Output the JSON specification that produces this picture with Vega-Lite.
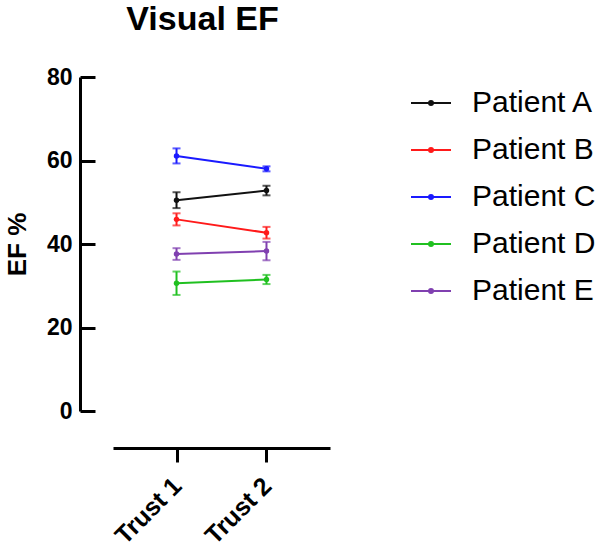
{
  "$schema": "https://vega.github.io/schema/vega-lite/v6.json",
  "autosize": {"type": "none"},
  "padding": {"left": 113, "top": 77, "right": 267, "bottom": 141},
  "width": 217,
  "height": 334,
  "title": {"text": "Visual EF", "fontSize": 34, "font": "Liberation Sans", "fontWeight": "bold", "anchor": "middle", "dx": -19, "dy": -25, "color": "black"},
  "data": {"values": [
    {"patient": "Patient A", "trust": "Trust 1", "ef": 50.5, "err": 1.9},
    {"patient": "Patient A", "trust": "Trust 2", "ef": 52.8, "err": 1.15},
    {"patient": "Patient B", "trust": "Trust 1", "ef": 45.9, "err": 1.45},
    {"patient": "Patient B", "trust": "Trust 2", "ef": 42.7, "err": 1.4},
    {"patient": "Patient C", "trust": "Trust 1", "ef": 61.1, "err": 1.8},
    {"patient": "Patient C", "trust": "Trust 2", "ef": 58.0, "err": 0.6},
    {"patient": "Patient D", "trust": "Trust 1", "ef": 30.6, "err": 2.8},
    {"patient": "Patient D", "trust": "Trust 2", "ef": 31.5, "err": 1.1},
    {"patient": "Patient E", "trust": "Trust 1", "ef": 37.6, "err": 1.4},
    {"patient": "Patient E", "trust": "Trust 2", "ef": 38.3, "err": 2.2}
  ]},
  "encoding": {
    "x": {"field": "trust", "type": "ordinal", "scale": {"type": "point", "padding": 0.706},
      "axis": {"title": null, "labelAngle": -45, "labelFontSize": 25, "labelFont": "Liberation Sans", "labelFontWeight": "bold", "labelColor": "black", "offset": 37, "domainColor": "black", "domainWidth": 3, "tickColor": "black", "tickWidth": 3, "tickSize": 14, "labelPadding": 11, "labelOffset": -8}},
    "color": {"field": "patient", "type": "nominal",
      "scale": {"domain": ["Patient A", "Patient B", "Patient C", "Patient D", "Patient E"], "range": ["#111111", "#ff1a1a", "#1a1aff", "#20c020", "#8040b0"]},
      "legend": {"orient": "none", "legendX": 297, "legendY": 5, "title": null, "symbolType": "M-1,0L1,0M-0.1,0a0.1,0.1 0 1,0 0.2,0a0.1,0.1 0 1,0 -0.2,0", "symbolSize": 1600, "symbolStrokeWidth": 2, "labelFontSize": 30, "labelFont": "Liberation Sans", "labelColor": "black", "labelOffset": 20, "rowPadding": 11, "symbolOpacity": 1}}
  },
  "layer": [
    {"mark": {"type": "line", "strokeWidth": 2},
     "encoding": {"y": {"field": "ef", "type": "quantitative", "scale": {"domain": [0, 80]},
      "axis": {"orient": "left", "title": "EF %", "titleFontSize": 26, "titleFont": "Liberation Sans", "titleFontWeight": "bold", "titleColor": "black", "titlePadding": 16, "values": [0, 20, 40, 60, 80], "labelFontSize": 23, "labelFont": "Liberation Sans", "labelFontWeight": "bold", "labelColor": "black", "offset": 33, "domainColor": "black", "domainWidth": 3, "ticks": false, "labelPadding": 8, "grid": false}}}},
    {"mark": {"type": "errorbar", "ticks": {"size": 8, "thickness": 2}, "thickness": 2},
     "encoding": {"y": {"field": "ef", "type": "quantitative", "axis": null}, "yError": {"field": "err"}}},
    {"mark": {"type": "point", "filled": true, "size": 30, "opacity": 1},
     "encoding": {"y": {"field": "ef", "type": "quantitative",
      "axis": {"orient": "left", "title": null, "values": [0, 20, 40, 60, 80], "labels": false, "domain": false, "offset": 18, "ticks": true, "tickSize": 15, "tickWidth": 3, "tickColor": "black", "grid": false}}}}
  ],
  "resolve": {"axis": {"y": "independent"}},
  "config": {"view": {"stroke": null}}
}
